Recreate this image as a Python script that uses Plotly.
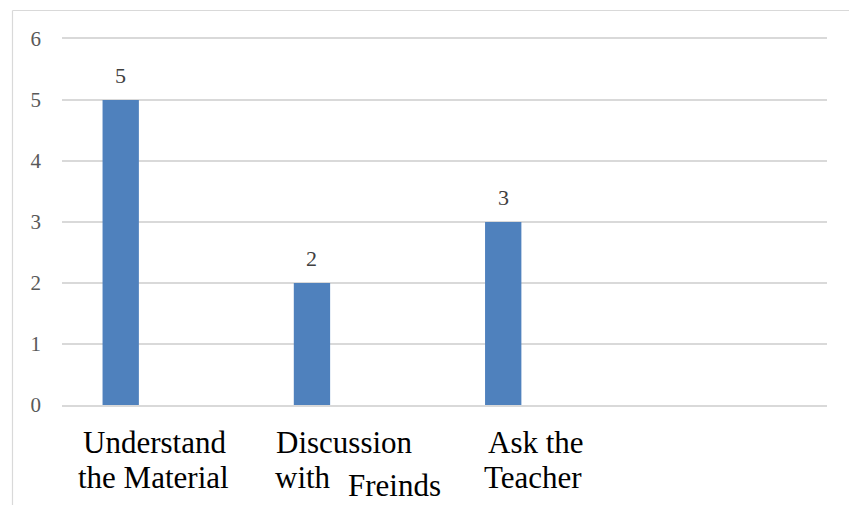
import plotly.graph_objects as go

# Chart data
categories = ["Understand the Material", "Discussion with Freinds", "Ask the Teacher"]
values = [5, 2, 3]
y_ticks = [0, 1, 2, 3, 4, 5, 6]

# Category label lines: (category index, text, line row, extra drop in px, x shift in px)
label_lines = [
    (0, "Understand", 0, 0, -3),
    (0, "the Material", 1, 0, -4),
    (1, "Discussion", 0, 0, -4),
    (1, "with", 1, 0, -46),
    (1, "Freinds", 1, 8, 46),
    (2, "Ask the", 0, 0, -4),
    (2, "Teacher", 1, 0, -7),
]

W, H = 849, 505
L, R, T, B = 62, 22, 39, 100
plot_w = W - L - R
plot_h = H - T - B

BAR_COLOR = "#4f81bd"
GRID = "#d9d9d9"
SERIF = "Liberation Serif, Times New Roman, serif"

fig = go.Figure()
fig.add_trace(go.Bar(
    x=categories,
    y=values,
    marker=dict(color=BAR_COLOR, line=dict(width=0)),
    offset=-0.288,
    width=0.19,
    hoverinfo="skip",
))

def px_x(px):
    return (px - L) / plot_w

def px_y(py):
    return (H - B - py) / plot_h

annotations = []
# value labels above the bars
for cat, v in zip(categories, values):
    annotations.append(dict(
        x=cat, y=v, xref="x", yref="y",
        text=str(v), showarrow=False,
        xanchor="center", yanchor="middle",
        xshift=-0.193 * plot_w / 4, yshift=25,
        font=dict(family=SERIF, size=22, color="#404040"),
    ))

# category labels under the axis
row_y = [443, 478]
for idx, txt, row, drop, xs in label_lines:
    annotations.append(dict(
        x=categories[idx], y=px_y(row_y[row] + drop), xref="x", yref="paper",
        text=txt, showarrow=False,
        xanchor="center", yanchor="middle", xshift=xs,
        font=dict(family=SERIF, size=31, color="#000000"),
    ))

# outer chart frame (left and top edges)
shapes = [
    dict(type="line", xref="paper", yref="paper",
         x0=px_x(12.5), x1=px_x(W + 5), y0=px_y(10.5), y1=px_y(10.5),
         line=dict(color=GRID, width=1.2)),
    dict(type="line", xref="paper", yref="paper",
         x0=px_x(12.5), x1=px_x(12.5), y0=px_y(10.5), y1=px_y(H + 5),
         line=dict(color=GRID, width=1.2)),
]

fig.update_layout(
    width=W, height=H,
    margin=dict(l=L, r=R, t=T, b=B, pad=0),
    paper_bgcolor="white", plot_bgcolor="white",
    showlegend=False,
    annotations=annotations,
    shapes=shapes,
    font=dict(family=SERIF),
    xaxis=dict(
        type="category",
        range=[-0.5, 3.5],
        showticklabels=False,
        showgrid=False, zeroline=False, ticks="",
        showline=True, mirror=True, linecolor=GRID, linewidth=1.5,
        fixedrange=True,
    ),
    yaxis=dict(
        range=[0, 6],
        tickvals=y_ticks,
        showgrid=True, gridcolor=GRID, gridwidth=1.5,
        zeroline=False, showline=False, ticks="",
        ticklabelstandoff=20,
        tickfont=dict(family=SERIF, size=21, color="#595959"),
        fixedrange=True,
    ),
)

fig.write_html("out.html")
